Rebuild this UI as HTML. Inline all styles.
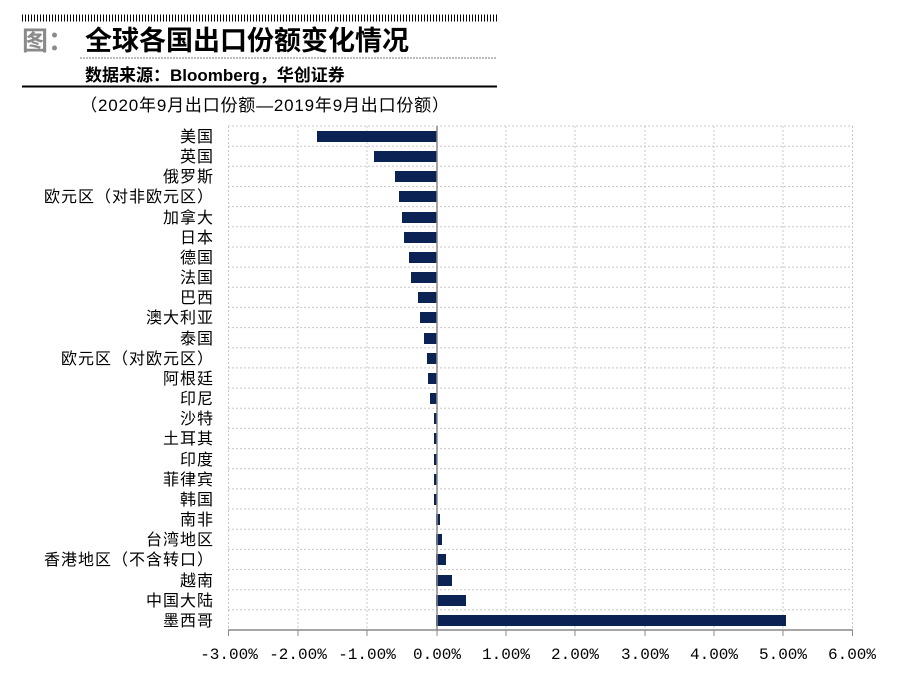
<!DOCTYPE html>
<html><head><meta charset="utf-8"><style>
body{margin:0;background:#fff;width:900px;height:675px;overflow:hidden;font-family:"Liberation Sans","Noto Sans CJK SC",sans-serif}
</style></head><body>
<svg width="900" height="675" xmlns="http://www.w3.org/2000/svg" font-family="Liberation Sans, Noto Sans CJK SC, sans-serif">
<line x1="22" y1="18" x2="497" y2="18" stroke="#000" stroke-width="7" stroke-dasharray="1 2"/>
<text x="22" y="50" font-size="26" font-weight="bold" fill="#8a8a8a">图：</text>
<text x="85" y="50" font-size="27" font-weight="bold" fill="#000">全球各国出口份额变化情况</text>
<line x1="80" y1="58" x2="497" y2="58" stroke="#777" stroke-width="1" stroke-dasharray="2 1"/>
<text x="85" y="81" font-size="17" font-weight="bold" fill="#000">数据来源：Bloomberg，华创证券</text>
<line x1="22" y1="86.5" x2="497" y2="86.5" stroke="#000" stroke-width="2"/>
<text x="265" y="111" font-size="17" text-anchor="middle" fill="#000" letter-spacing="0.8">（2020年9月出口份额—2019年9月出口份额）</text>
<g stroke="#c8c8c8" stroke-width="1" stroke-dasharray="2 2">
<line x1="228" y1="126" x2="853" y2="126"/><line x1="228" y1="146.2" x2="853" y2="146.2"/><line x1="228" y1="166.3" x2="853" y2="166.3"/><line x1="228" y1="186.5" x2="853" y2="186.5"/><line x1="228" y1="206.6" x2="853" y2="206.6"/><line x1="228" y1="226.8" x2="853" y2="226.8"/><line x1="228" y1="247" x2="853" y2="247"/><line x1="228" y1="267.1" x2="853" y2="267.1"/><line x1="228" y1="287.3" x2="853" y2="287.3"/><line x1="228" y1="307.4" x2="853" y2="307.4"/><line x1="228" y1="327.6" x2="853" y2="327.6"/><line x1="228" y1="347.8" x2="853" y2="347.8"/><line x1="228" y1="367.9" x2="853" y2="367.9"/><line x1="228" y1="388.1" x2="853" y2="388.1"/><line x1="228" y1="408.2" x2="853" y2="408.2"/><line x1="228" y1="428.4" x2="853" y2="428.4"/><line x1="228" y1="448.6" x2="853" y2="448.6"/><line x1="228" y1="468.7" x2="853" y2="468.7"/><line x1="228" y1="488.9" x2="853" y2="488.9"/><line x1="228" y1="509" x2="853" y2="509"/><line x1="228" y1="529.2" x2="853" y2="529.2"/><line x1="228" y1="549.4" x2="853" y2="549.4"/><line x1="228" y1="569.5" x2="853" y2="569.5"/><line x1="228" y1="589.7" x2="853" y2="589.7"/><line x1="228" y1="609.8" x2="853" y2="609.8"/>
<line x1="228.5" y1="126" x2="228.5" y2="630"/><line x1="298" y1="126" x2="298" y2="630"/><line x1="367" y1="126" x2="367" y2="630"/><line x1="506" y1="126" x2="506" y2="630"/><line x1="575" y1="126" x2="575" y2="630"/><line x1="645" y1="126" x2="645" y2="630"/><line x1="714" y1="126" x2="714" y2="630"/><line x1="783" y1="126" x2="783" y2="630"/><line x1="852.5" y1="126" x2="852.5" y2="630"/>
</g>
<g fill="#0b2255">
<rect x="317" y="131" width="120" height="11"/>
<rect x="374" y="151" width="63" height="11"/>
<rect x="395" y="171" width="42" height="11"/>
<rect x="399" y="191" width="38" height="11"/>
<rect x="402" y="212" width="35" height="11"/>
<rect x="404" y="232" width="33" height="11"/>
<rect x="409" y="252" width="28" height="11"/>
<rect x="411" y="272" width="26" height="11"/>
<rect x="418" y="292" width="19" height="11"/>
<rect x="420" y="312" width="17" height="11"/>
<rect x="424" y="333" width="13" height="11"/>
<rect x="427" y="353" width="10" height="11"/>
<rect x="428" y="373" width="9" height="11"/>
<rect x="430" y="393" width="7" height="11"/>
<rect x="434" y="413" width="3" height="11"/>
<rect x="434" y="433" width="3" height="11"/>
<rect x="434" y="454" width="3" height="11"/>
<rect x="434" y="474" width="3" height="11"/>
<rect x="434" y="494" width="3" height="11"/>
<rect x="436" y="514" width="4" height="11"/>
<rect x="436" y="534" width="6" height="11"/>
<rect x="436" y="554" width="10" height="11"/>
<rect x="436" y="575" width="16" height="11"/>
<rect x="436" y="595" width="30" height="11"/>
<rect x="436" y="615" width="350" height="11"/>
</g>
<g stroke="#888" stroke-width="1.5">
<line x1="437" y1="126" x2="437" y2="630"/>
<line x1="228" y1="630" x2="853" y2="630"/>
</g>
<g stroke="#888" stroke-width="1">
<line x1="228.5" y1="630" x2="228.5" y2="636"/><line x1="298" y1="630" x2="298" y2="636"/><line x1="367" y1="630" x2="367" y2="636"/><line x1="437" y1="630" x2="437" y2="636"/><line x1="506" y1="630" x2="506" y2="636"/><line x1="575" y1="630" x2="575" y2="636"/><line x1="645" y1="630" x2="645" y2="636"/><line x1="714" y1="630" x2="714" y2="636"/><line x1="783" y1="630" x2="783" y2="636"/><line x1="852.5" y1="630" x2="852.5" y2="636"/>
</g>
<g font-size="16" text-anchor="middle" fill="#000" font-family="Liberation Mono, monospace">
<text x="229" y="659">-3.00%</text><text x="298" y="659">-2.00%</text><text x="367" y="659">-1.00%</text><text x="437" y="659">0.00%</text><text x="506" y="659">1.00%</text><text x="575" y="659">2.00%</text><text x="645" y="659">3.00%</text><text x="714" y="659">4.00%</text><text x="783" y="659">5.00%</text><text x="852" y="659">6.00%</text>
</g>
<g font-size="16" text-anchor="end" fill="#000" letter-spacing="1">
<text x="214" y="142">美国</text><text x="214" y="162">英国</text><text x="214" y="182">俄罗斯</text><text x="214" y="202">欧元区（对非欧元区）</text><text x="214" y="223">加拿大</text><text x="214" y="243">日本</text><text x="214" y="263">德国</text><text x="214" y="283">法国</text><text x="214" y="303">巴西</text><text x="214" y="323">澳大利亚</text><text x="214" y="344">泰国</text><text x="214" y="364">欧元区（对欧元区）</text><text x="214" y="384">阿根廷</text><text x="214" y="404">印尼</text><text x="214" y="424">沙特</text><text x="214" y="444">土耳其</text><text x="214" y="465">印度</text><text x="214" y="485">菲律宾</text><text x="214" y="505">韩国</text><text x="214" y="525">南非</text><text x="214" y="545">台湾地区</text><text x="214" y="565">香港地区（不含转口）</text><text x="214" y="586">越南</text><text x="214" y="606">中国大陆</text><text x="214" y="626">墨西哥</text>
</g>
</svg>
</body></html>
